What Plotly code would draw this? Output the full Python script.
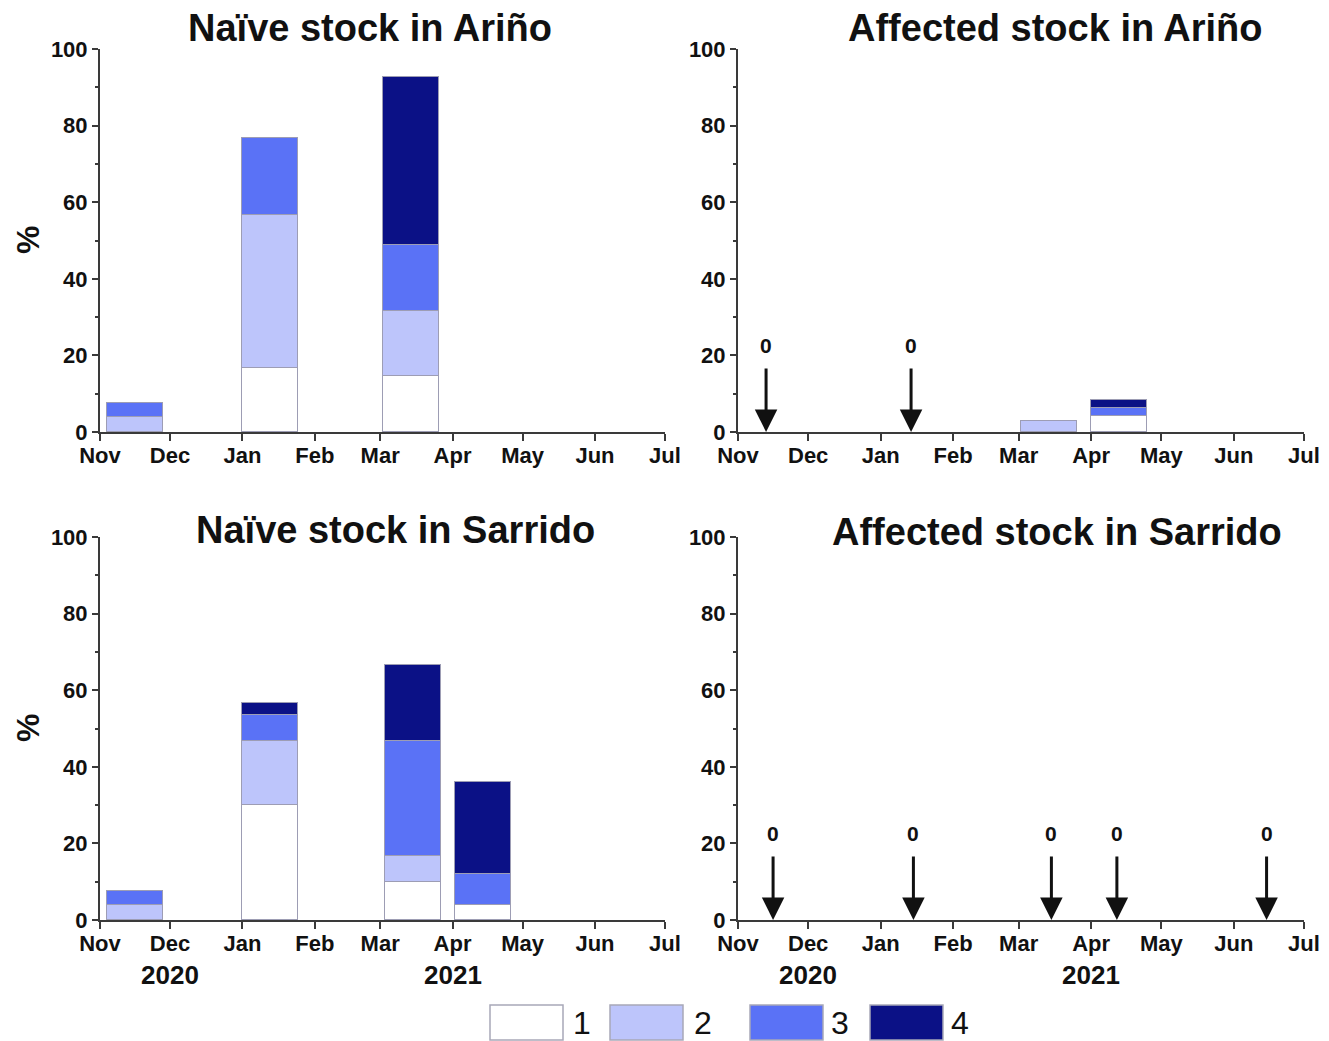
import plotly.graph_objects as go

# Scoring categories (stacked bar segments)
categories = ["1", "2", "3", "4"]
colors = ["#ffffff", "#bdc5fb", "#5a72f6", "#0b1186"]

# Sampling dates (bar start) and percentages per category
naive_arino_dates = ["2020-11-04", "2021-01-01", "2021-03-02"]
naive_arino = {
    "1": [None, 16.7, 14.6],
    "2": [3.85, 40.0, 17.1],
    "3": [3.85, 20.0, 17.1],
    "4": [None, None, 43.9],
}

affected_arino_dates = ["2021-03-02", "2021-04-01"]
affected_arino = {
    "1": [None, 4.2],
    "2": [2.9, None],
    "3": [None, 2.1],
    "4": [None, 2.1],
}

naive_sarrido_dates = ["2020-11-04", "2021-01-01", "2021-03-03", "2021-04-02"]
naive_sarrido = {
    "1": [None, 30.0, 10.0, 4.0],
    "2": [3.85, 16.7, 6.7, None],
    "3": [3.85, 6.7, 30.0, 8.0],
    "4": [None, 3.3, 20.0, 24.0],
}

affected_sarrido_dates = []
affected_sarrido = {c: [] for c in categories}

# Sampling dates with zero prevalence (marked with arrows)
zero_arino = ["2020-11-13", "2021-01-14"]
zero_sarrido = ["2020-11-16", "2021-01-15", "2021-03-15", "2021-04-12", "2021-06-15"]

titles = ["Naïve stock in Ariño", "Affected stock in Ariño",
          "Naïve stock in Sarrido", "Affected stock in Sarrido"]
years = ["2020", "2021"]

BAR_DAYS = 24
DAY_MS = 86400000
FONT = "Liberation Sans, Arial, sans-serif"

fig = go.Figure()

panels = [
    (naive_arino_dates, naive_arino, "x", "y"),
    (affected_arino_dates, affected_arino, "x2", "y2"),
    (naive_sarrido_dates, naive_sarrido, "x3", "y3"),
    (affected_sarrido_dates, affected_sarrido, "x4", "y4"),
]

for dates, data, xa, ya in panels:
    if not dates:
        continue
    for cat, col in zip(categories, colors):
        fig.add_trace(go.Bar(
            x=dates, y=data[cat], xaxis=xa, yaxis=ya,
            width=[BAR_DAYS * DAY_MS] * len(dates), offset=0,
            marker=dict(color=col, line=dict(color="#9d9db4", width=1)),
            name=cat, showlegend=False,
        ))

W, H = 1329, 1041
dom_x_left = [100 / W, 665 / W]
dom_x_right = [738 / W, 1304 / W]
dom_y_top = [1 - 432 / H, 1 - 49 / H]
dom_y_bot = [1 - 920 / H, 1 - 537 / H]

axis_line = "#3a3a3a"
tickfont = dict(family=FONT, size=22, color="#111", weight="bold")


def xaxis(domain, anchor):
    return dict(
        domain=domain, anchor=anchor, type="date", automargin=False,
        range=["2020-11-01", "2021-07-01"],
        tickmode="linear", tick0="2020-11-01", dtick="M1", tickformat="%b",
        ticks="outside", ticklen=7, tickwidth=2, tickcolor=axis_line,
        ticklabelstandoff=-4,
        showline=True, linewidth=2, linecolor=axis_line,
        showgrid=False, zeroline=False, tickfont=tickfont,
        fixedrange=True,
    )


def yaxis(domain, anchor):
    return dict(
        domain=domain, anchor=anchor, range=[0, 100], automargin=False,
        tickmode="linear", tick0=0, dtick=20,
        ticks="outside", ticklen=6, tickwidth=2, tickcolor=axis_line,
        minor=dict(ticks="outside", ticklen=3, tickwidth=1.5, dtick=10,
                   tickcolor=axis_line, showgrid=False),
        showline=True, linewidth=2, linecolor=axis_line,
        showgrid=False, zeroline=False, tickfont=tickfont,
        fixedrange=True,
    )


annotations = []

# Panel titles
title_pos = [(370, 28), (1055, 28), (395, 530), (1057, 532)]
for t, (px, py) in zip(titles, title_pos):
    annotations.append(dict(
        text=t, x=px / W, y=1 - py / H, xref="paper", yref="paper",
        showarrow=False, xanchor="center", yanchor="middle",
        font=dict(family=FONT, size=38, color="#111", weight="bold"),
    ))

# Y-axis labels
for py in (240, 728):
    annotations.append(dict(
        text="%", x=28 / W, y=1 - py / H, xref="paper", yref="paper",
        showarrow=False, textangle=-90, xanchor="center", yanchor="middle",
        font=dict(family=FONT, size=32, color="#111", weight="bold"),
    ))

# Year labels under the bottom axes
for xa in ("x3", "x4"):
    for yr, d in zip(years, ["2020-12-01", "2021-04-01"]):
        annotations.append(dict(
            text=yr, x=d, y=1 - 975 / H, xref=xa, yref="paper",
            showarrow=False, xanchor="center", yanchor="middle",
            font=dict(family=FONT, size=26, color="#111", weight="bold"),
        ))

# Zero-prevalence arrows
for dates, xa, ya in ((zero_arino, "x2", "y2"), (zero_sarrido, "x4", "y4")):
    for d in dates:
        annotations.append(dict(
            x=d, y=0, ax=d, ay=17, xref=xa, yref=ya, axref=xa, ayref=ya,
            text="", showarrow=True, arrowhead=2, arrowsize=1.5,
            arrowwidth=3, arrowcolor="#111", standoff=0,
        ))
        annotations.append(dict(
            x=d, y=22.5, xref=xa, yref=ya, text="0", showarrow=False,
            xanchor="center", yanchor="middle",
            font=dict(family=FONT, size=21, color="#111", weight="bold"),
        ))

# Legend drawn as boxes with labels
shapes = []
legend_boxes = [(490, 563), (610, 683), (750, 823), (870, 943)]
legend_text_x = [582, 703, 840, 960]
for cat, col, (x0, x1), tx in zip(categories, colors, legend_boxes, legend_text_x):
    shapes.append(dict(
        type="rect", xref="paper", yref="paper",
        x0=x0 / W, x1=x1 / W, y0=1 - 1040 / H, y1=1 - 1005 / H,
        fillcolor=col, line=dict(color="#a8a8b8", width=1.5),
    ))
    annotations.append(dict(
        text=cat, x=tx / W, y=1 - 1023 / H, xref="paper", yref="paper",
        showarrow=False, xanchor="center", yanchor="middle",
        font=dict(family=FONT, size=32, color="#111"),
    ))

fig.update_layout(
    width=W, height=H,
    margin=dict(l=0, r=0, t=0, b=0, autoexpand=False),
    paper_bgcolor="white", plot_bgcolor="white",
    barmode="stack", bargap=0,
    showlegend=False,
    xaxis=xaxis(dom_x_left, "y"),
    yaxis=yaxis(dom_y_top, "x"),
    xaxis2=xaxis(dom_x_right, "y2"),
    yaxis2=yaxis(dom_y_top, "x2"),
    xaxis3=xaxis(dom_x_left, "y3"),
    yaxis3=yaxis(dom_y_bot, "x3"),
    xaxis4=xaxis(dom_x_right, "y4"),
    yaxis4=yaxis(dom_y_bot, "x4"),
    annotations=annotations,
    shapes=shapes,
)

fig.write_html("out.html")
